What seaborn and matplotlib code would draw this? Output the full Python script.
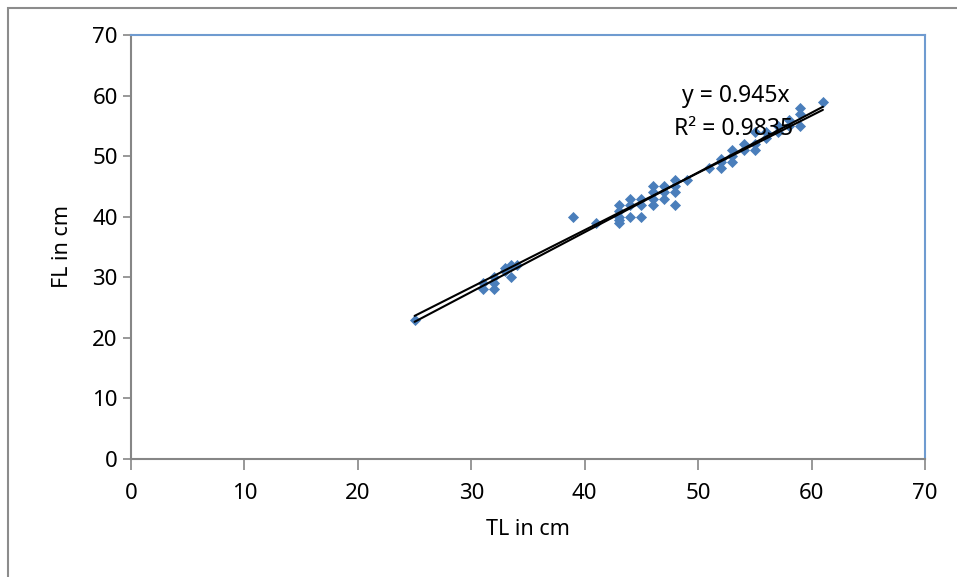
import numpy as np
import pandas as pd
import matplotlib
matplotlib.use("Agg")
import matplotlib.pyplot as plt
import seaborn as sns
from matplotlib.patches import Rectangle

# total length vs fork length (cm)
tl = [25, 31, 31, 32, 32, 32, 33, 33, 33.5, 33.5, 34,
      39, 41,
      43, 43, 43, 43, 43, 44, 44, 44, 45, 45, 45,
      46, 46, 46, 46, 47, 47, 47, 48, 48, 48, 48, 49,
      51, 52, 52, 52, 53, 53, 53, 54, 54, 55, 55, 55,
      56, 56, 57, 57, 58, 58, 59, 59, 59, 61]
fl = [23, 28, 29, 28, 29, 30, 31, 31.5, 30, 32, 32,
      40, 39,
      39, 39.5, 40, 41, 42, 40, 42, 43, 40, 42, 43,
      42, 43, 44, 45, 43, 44, 45, 42, 44, 45, 46, 46,
      48, 48, 49, 49.5, 49, 50, 51, 51, 52, 51, 52, 54,
      53, 54, 54, 55, 55, 56, 55, 57, 58, 59]
slope = 0.945
r2 = 0.9835

df = pd.DataFrame({"TL": tl, "FL": fl})

sns.set_style("white")
plt.rcParams["font.family"] = ["Noto Sans", "DejaVu Sans"]
plt.rcParams["text.color"] = "black"
plt.rcParams["axes.labelcolor"] = "black"
plt.rcParams["xtick.labelcolor"] = "black"
plt.rcParams["ytick.labelcolor"] = "black"

fig = plt.figure(figsize=(9.57, 5.77), dpi=100)
ax = fig.add_axes([131 / 957, 1 - 459 / 577, 794 / 957, 424 / 577])

# chart border (right and bottom edges fall outside the image)
fig.patches.append(Rectangle((8 / 957, -0.05), 1.0, 1 - 8 / 577 + 0.05,
                             transform=fig.transFigure, fill=False,
                             edgecolor="#8c8c8c", linewidth=1.5))

sns.scatterplot(data=df, x="TL", y="FL", marker="D", s=32, color="#4a7ebb",
                edgecolor="#4a7ebb", linewidth=0, ax=ax, zorder=2)

# trendlines: linear fit and fit through origin
sns.regplot(data=df, x="TL", y="FL", ci=None, scatter=False, truncate=True,
            line_kws={"color": "black", "linewidth": 1.5}, ax=ax)
xs = np.array([min(tl), max(tl)])
ax.plot(xs, slope * xs, color="black", linewidth=1.5, zorder=3)

ax.text(48.6, 59.9, f"y = {slope}x", fontsize=16.5, ha="left", va="center")
ax.text(47.9, 54.4, f"R² = {r2}", fontsize=16.5, ha="left", va="center")

ax.set_xlim(0, 70)
ax.set_ylim(0, 70)
ax.set_xticks(range(0, 71, 10))
ax.set_yticks(range(0, 71, 10))
ax.tick_params(axis="both", labelsize=16, length=6, direction="out",
               color="#868686", width=1.2, left=True, bottom=True)
ax.tick_params(axis="x", length=8, pad=9)
ax.set_xlabel("TL in cm", fontsize=15.5, labelpad=11)
ax.set_ylabel("FL in cm", fontsize=15.5, labelpad=14)

for side in ["left", "bottom"]:
    ax.spines[side].set_color("#868686")
    ax.spines[side].set_linewidth(1.5)
for side in ["top", "right"]:
    ax.spines[side].set_visible(True)
    ax.spines[side].set_color("#6f9bd0")
    ax.spines[side].set_linewidth(1.5)

fig.savefig("out.png", dpi=100)
